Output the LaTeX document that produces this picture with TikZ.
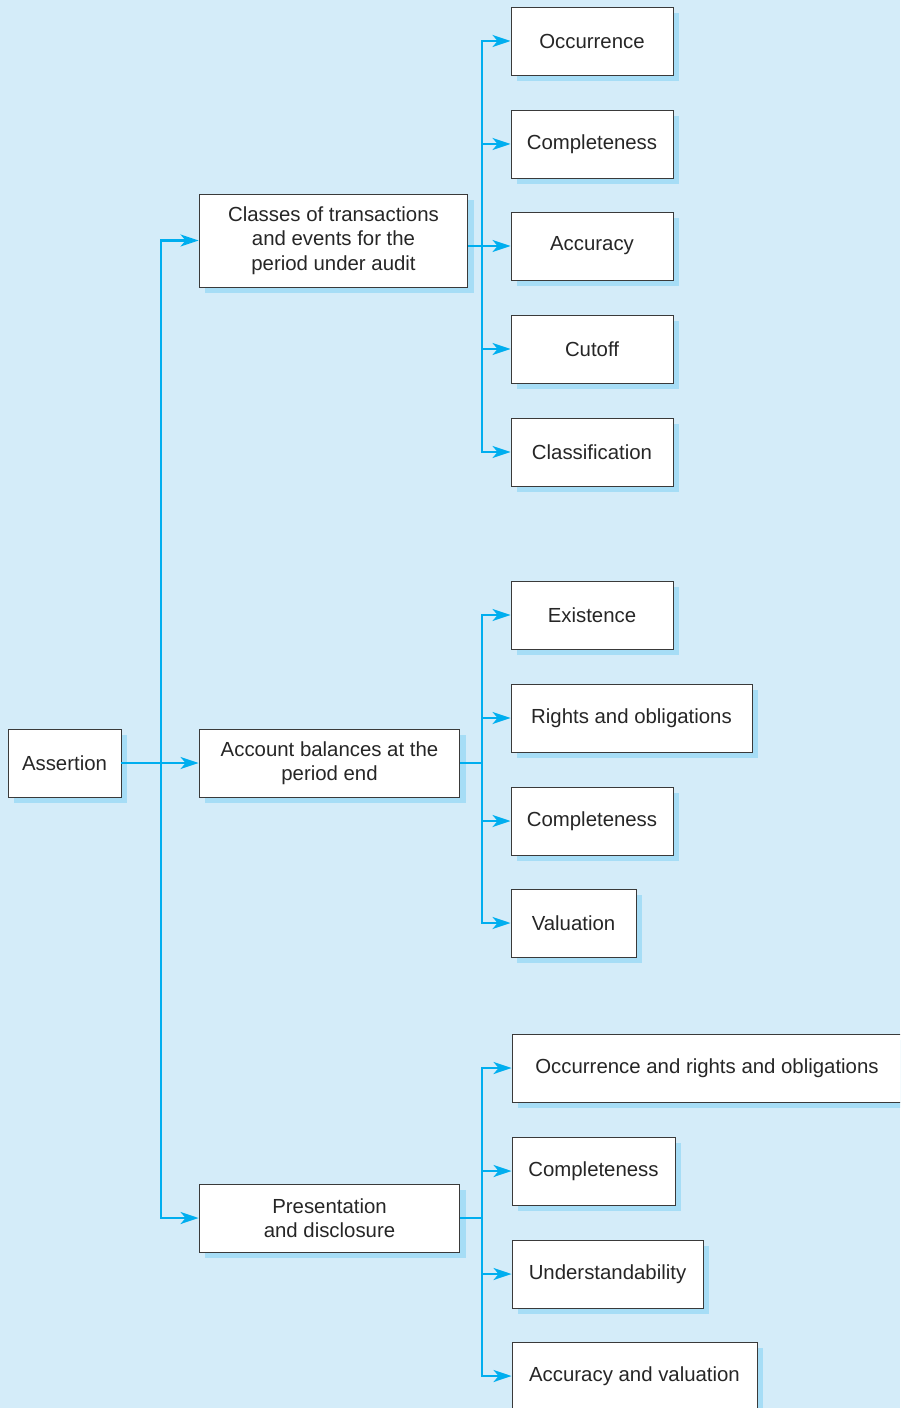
\documentclass[tikz,border=0pt]{standalone}
\usepackage{fontspec}
\setmainfont{Liberation Sans}
\usetikzlibrary{arrows.meta,shadows}

\definecolor{bgblue}{HTML}{D4ECF9}
\definecolor{shadeblue}{HTML}{A6DDF6}
\definecolor{linkblue}{HTML}{00AEEF}
\definecolor{edgegray}{HTML}{3A3A3A}

\tikzset{
  box/.style={draw=edgegray, line width=0.55pt, fill=white, align=center,
    minimum height=1.36cm, inner sep=2pt, text=black!85,
    font=\fontsize{11.6}{13.8}\selectfont,
    drop shadow={shadow xshift=0.12cm, shadow yshift=-0.12cm, fill=shadeblue, opacity=1}},
  link/.style={linkblue, line width=1.35pt},
  flow/.style={link, -{Stealth[length=0.36cm, width=0.24cm, inset=0.1cm]}}
}

\begin{document}
\begin{tikzpicture}[x=0.02cm, y=-0.02cm]
        % Canvas
        \fill[bgblue] (0,0) rectangle (900,1408);
        \useasboundingbox (0,0) rectangle (900,1408);
        \clip (0,0) rectangle (900,1408);

        % First level
        \node[box, minimum width=2.26cm] (assert) at (64.5,763) {Assertion};
        \node[box, minimum width=5.38cm, minimum height=1.86cm] (classes) at (333.5,240.5)
            {Classes of transactions\\and events for the\\period under audit};
        \node[box, minimum width=5.22cm] (balances) at (329.5,763) {Account balances at the\\period end};
        \node[box, minimum width=5.22cm] (present) at (329.5,1218) {Presentation\\and disclosure};

        % Transactions and events
        \node[box, minimum width=3.24cm] (occur) at (592,41) {Occurrence};
        \node[box, minimum width=3.24cm] (complA) at (592,144) {Completeness};
        \node[box, minimum width=3.24cm] (accur) at (592,246) {Accuracy};
        \node[box, minimum width=3.24cm] (cutoff) at (592,349) {Cutoff};
        \node[box, minimum width=3.24cm] (classif) at (592,452) {Classification};

        % Balances
        \node[box, minimum width=3.24cm] (exist) at (592,615) {Existence};
        \node[box, minimum width=4.82cm] (rights) at (631.5,718) {Rights and obligations};
        \node[box, minimum width=3.24cm] (complB) at (592,821) {Completeness};
        \node[box, minimum width=2.5cm] (valu) at (573.5,923) {Valuation};

        % Presentation
        \node[box, minimum width=7.8cm] (occrights) at (707,1068) {Occurrence and rights and obligations};
        \node[box, minimum width=3.26cm] (complC) at (593.5,1171) {Completeness};
        \node[box, minimum width=3.82cm] (underst) at (607.5,1274) {Understandability};
        \node[box, minimum width=4.9cm] (accval) at (634.5,1376) {Accuracy and valuation};

        % Junctions
        \coordinate (jmain) at (161,763);
        \coordinate (jclass) at (482,246);
        \coordinate (jbal) at (482,763);
        \coordinate (jpres) at (482,1218);

        % Main trunk
        \draw[flow] (assert) -- (balances);
        \draw[flow] (jmain) |- (classes);
        \draw[flow] (jmain) |- (present);

        % Branches of the first box
        \draw[flow] (classes.east |- accur) -- (accur);
        \foreach \leaf in {occur,complA,cutoff,classif}
            \draw[flow] (jclass) |- (\leaf);

        % Branches of the second box
        \draw[link] (balances) -- (jbal);
        \foreach \leaf in {exist,rights,complB,valu}
            \draw[flow] (jbal) |- (\leaf);

        % Branches of the third box
        \draw[link] (present) -- (jpres);
        \foreach \leaf in {occrights,complC,underst,accval}
            \draw[flow] (jpres) |- (\leaf);

\end{tikzpicture}
\end{document}
